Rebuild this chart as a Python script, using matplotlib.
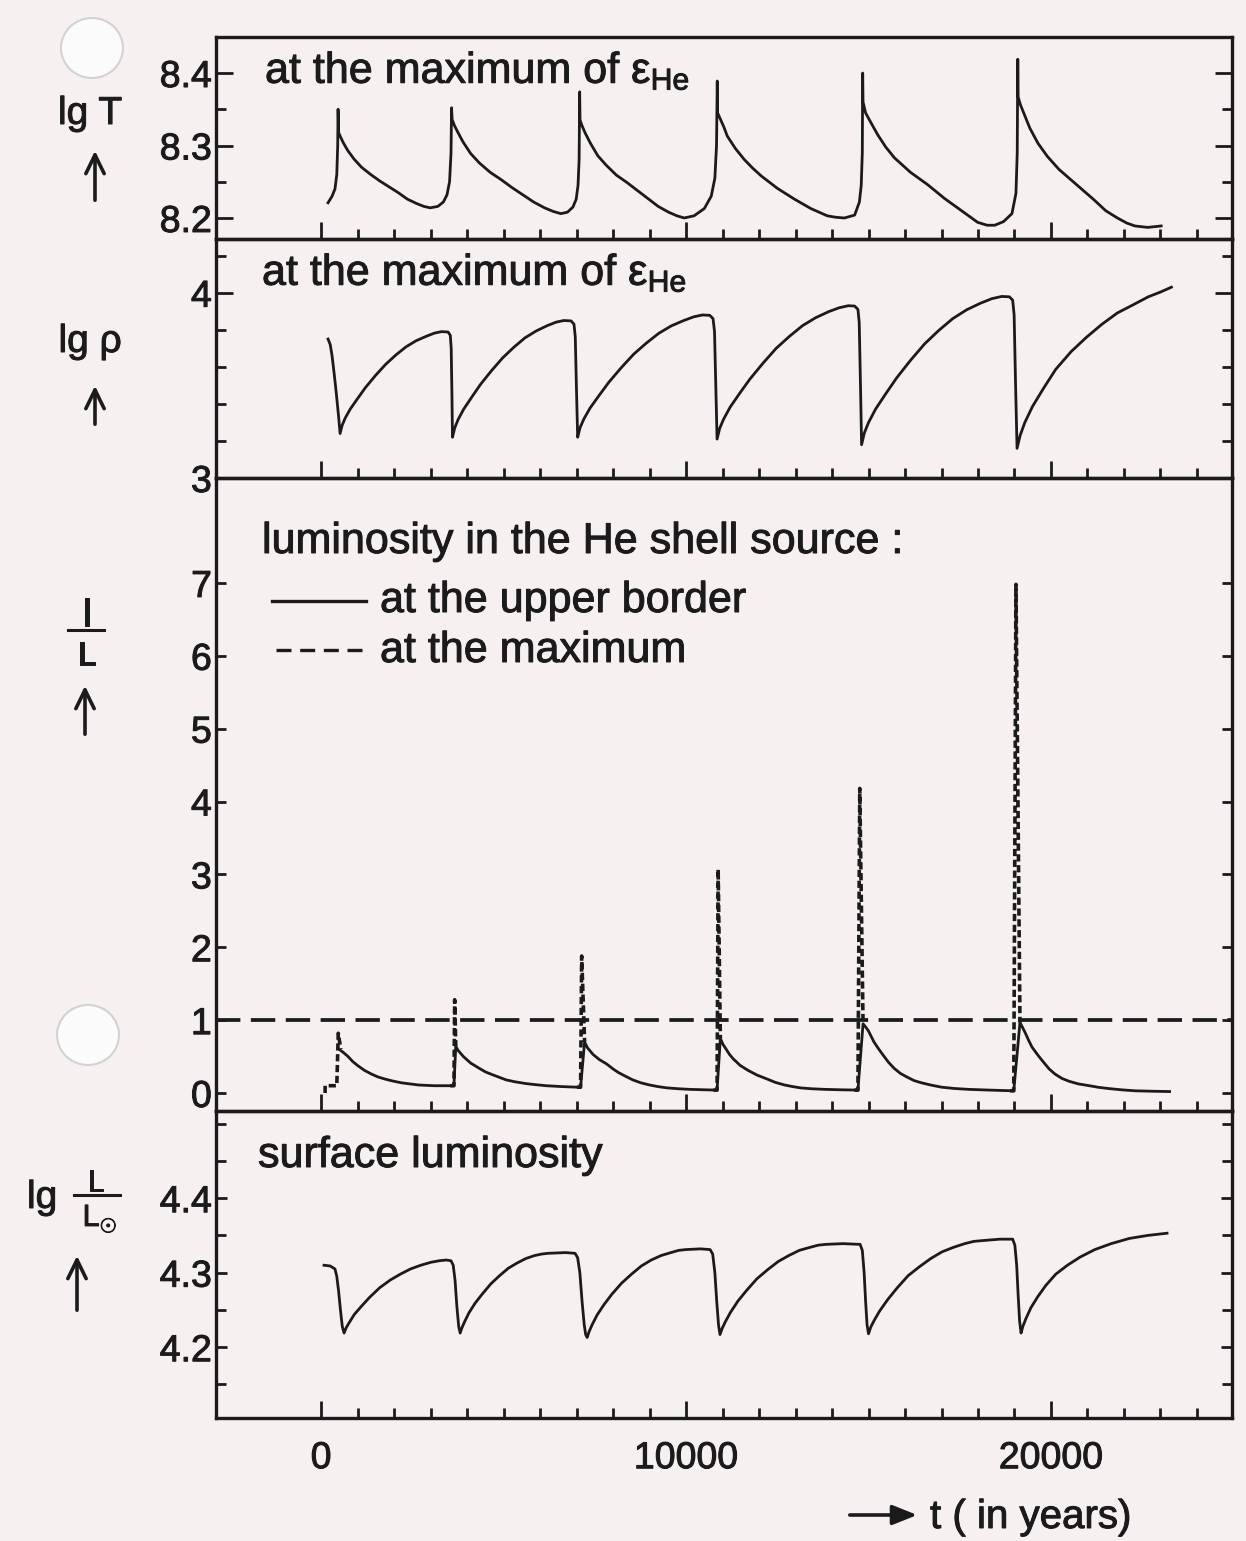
import matplotlib
matplotlib.use("Agg")
import matplotlib.pyplot as plt
import matplotlib.patheffects as pe
from matplotlib.patches import FancyArrowPatch, Ellipse
from matplotlib.lines import Line2D
from matplotlib.ticker import MultipleLocator, FixedLocator

# ---- values (t in years) ----

# lg T at the maximum of eps_He (thin spike on top of each flash, then a concave decay)
lgT_t = [190, 300, 380, 430, 455, 465, 480,
         530, 606, 731, 907, 1108, 1359, 1610, 1861, 2112, 2363, 2614, 2814, 2990,
         3200, 3350, 3450, 3520, 3560, 3575, 3590,
         3650, 3739, 3888, 4097, 4335, 4633, 4931, 5229, 5527, 5825, 6123, 6361, 6570,
         6750, 6900, 6990, 7040, 7070, 7085, 7095,
         7152, 7238, 7381, 7580, 7809, 8094, 8380, 8665, 8951, 9236, 9522, 9750, 9950,
         10220, 10500, 10690, 10790, 10835, 10855, 10865,
         10935, 11040, 11130, 11350, 11590, 11820, 12060, 12500, 12970, 13420, 13870, 14100, 14340,
         14620, 14750, 14800, 14830, 14840, 14850,
         14920, 15050, 15250, 15470, 15710, 16150, 16620, 17080, 17550, 17990, 18250, 18460,
         18700, 18930, 19040, 19075, 19090, 19100,
         19164, 19260, 19420, 19644, 19900, 20220, 20540, 20860, 21180, 21500, 21820, 22076, 22300,
         22650, 23020]
lgT_v = [8.221, 8.230, 8.240, 8.260, 8.300, 8.350, 8.318,
         8.312, 8.304, 8.293, 8.281, 8.270, 8.260, 8.251, 8.243, 8.235, 8.226, 8.220, 8.216, 8.214,
         8.216, 8.222, 8.232, 8.250, 8.290, 8.352, 8.336,
         8.328, 8.319, 8.305, 8.289, 8.276, 8.263, 8.253, 8.242, 8.232, 8.222, 8.214, 8.209, 8.206,
         8.208, 8.215, 8.226, 8.245, 8.280, 8.374, 8.335,
         8.327, 8.317, 8.303, 8.286, 8.273, 8.259, 8.249, 8.238, 8.227, 8.216, 8.208, 8.203, 8.200,
         8.203, 8.213, 8.230, 8.255, 8.300, 8.389, 8.345,
         8.337, 8.325, 8.313, 8.296, 8.281, 8.269, 8.258, 8.241, 8.226, 8.213, 8.203, 8.201, 8.200,
         8.204, 8.222, 8.245, 8.290, 8.400, 8.360,
         8.345, 8.333, 8.315, 8.298, 8.283, 8.263, 8.246, 8.227, 8.210, 8.194, 8.190, 8.190,
         8.195, 8.206, 8.234, 8.290, 8.419, 8.367,
         8.356, 8.344, 8.324, 8.303, 8.285, 8.267, 8.253, 8.239, 8.225, 8.210, 8.200, 8.193, 8.189,
         8.187, 8.189]

# lg rho at the maximum of eps_He
rho_t = [190, 250, 300, 360, 420, 480,
         520, 576, 659, 798, 993, 1215, 1493, 1771, 2049, 2327, 2605, 2883, 3105, 3300,
         3480, 3540, 3565, 3585,
         3600, 3661, 3753, 3905, 4119, 4363, 4668, 4973, 5278, 5583, 5888, 6193, 6437, 6650,
         6850, 6930, 6965, 6995,
         7030, 7098, 7201, 7372, 7611, 7885, 8227, 8569, 8911, 9253, 9595, 9937, 10211, 10450,
         10650, 10740, 10780, 10815,
         10850, 10922, 11030, 11210, 11462, 11750, 12110, 12470, 12830, 13190, 13550, 13910, 14198, 14450,
         14620, 14710, 14745, 14780,
         14810, 14887, 15002, 15194, 15463, 15770, 16154, 16538, 16922, 17306, 17690, 18074, 18381, 18650,
         18860, 18950, 18990, 19030,
         19070, 19155, 19282, 19493, 19789, 20128, 20551, 20974, 21397, 21820, 22243, 22666, 23004, 23300]
rho_v = [3.750, 3.720, 3.660, 3.560, 3.450, 3.330,
         3.240, 3.284, 3.323, 3.372, 3.427, 3.488, 3.554, 3.614, 3.664, 3.708, 3.741, 3.765, 3.782, 3.790,
         3.788, 3.770, 3.700, 3.450,
         3.220, 3.270, 3.315, 3.371, 3.434, 3.504, 3.579, 3.648, 3.705, 3.756, 3.793, 3.822, 3.841, 3.850,
         3.848, 3.830, 3.760, 3.500,
         3.220, 3.273, 3.319, 3.378, 3.444, 3.517, 3.596, 3.669, 3.728, 3.781, 3.821, 3.850, 3.870, 3.880,
         3.878, 3.860, 3.790, 3.500,
         3.210, 3.268, 3.318, 3.383, 3.455, 3.534, 3.620, 3.700, 3.764, 3.822, 3.865, 3.898, 3.919, 3.930,
         3.928, 3.910, 3.840, 3.500,
         3.180, 3.244, 3.300, 3.372, 3.452, 3.540, 3.636, 3.724, 3.796, 3.860, 3.908, 3.944, 3.968, 3.980,
         3.978, 3.960, 3.880, 3.500,
         3.160, 3.230, 3.299, 3.386, 3.482, 3.586, 3.682, 3.760, 3.830, 3.891, 3.934, 3.978, 4.004, 4.030]

# l/L at the upper border of the He shell source
lup_t = [490, 600, 740, 870, 1020, 1190, 1380, 1560, 1760, 1960, 2200, 2430, 2670, 3100, 3640,
         3690, 3760, 3900, 4100, 4330, 4500, 4700, 5070, 5300, 5600, 5900, 6170, 6600, 7000, 7110,
         7220, 7300, 7450, 7620, 7820, 8000, 8150, 8340, 8540, 8760, 9000, 9230, 9480, 9800, 10100, 10500, 10850,
         10940, 11010, 11100, 11190, 11290, 11480, 11700, 11950, 12230, 12450, 12700, 12920, 13140, 13450, 13800,
         14250, 14710,
         14850, 14930, 15000, 15070, 15150, 15270, 15400, 15550, 15700, 15870, 16050, 16250, 16450, 16700, 17000,
         17350, 17740, 18300, 18980,
         19150, 19220, 19300, 19390, 19480, 19640, 19800, 19950, 20110, 20300, 20500, 20750, 21050, 21300, 21600,
         21950, 22310, 22800, 23250]
lup_v = [0.60, 0.56, 0.50, 0.43, 0.37, 0.31, 0.26, 0.22, 0.19, 0.165, 0.14, 0.125, 0.11, 0.10, 0.10,
         0.64, 0.58, 0.50, 0.41, 0.34, 0.29, 0.25, 0.18, 0.155, 0.13, 0.113, 0.10, 0.088, 0.08, 0.08,
         0.70, 0.62, 0.53, 0.46, 0.40, 0.33, 0.28, 0.23, 0.18, 0.14, 0.11, 0.088, 0.07, 0.058, 0.05, 0.044, 0.04,
         0.75, 0.67, 0.60, 0.53, 0.47, 0.38, 0.31, 0.245, 0.19, 0.145, 0.11, 0.088, 0.07, 0.058, 0.05,
         0.044, 0.04,
         0.95, 0.90, 0.85, 0.78, 0.70, 0.61, 0.52, 0.42, 0.34, 0.27, 0.22, 0.17, 0.14, 0.11, 0.08,
         0.062, 0.05, 0.04, 0.03,
         0.97, 0.90, 0.82, 0.72, 0.63, 0.52, 0.42, 0.33, 0.26, 0.20, 0.16, 0.125, 0.10, 0.078, 0.06,
         0.043, 0.03, 0.024, 0.02]

# l/L at the maximum: one spike per flash
spike_from_t = [110, 3540, 7010, 10750, 14610, 18880]
spike_from_v = [0.0, 0.10, 0.08, 0.04, 0.04, 0.03]
spike_up_t = [430, 3640, 7110, 10850, 14710, 18980]
spike_top_t = [470, 3660, 7140, 10880, 14760, 19040]
spike_down_t = [540, 3690, 7220, 10940, 14850, 19150]
spike_base = [0.10, 0.10, 0.08, 0.04, 0.04, 0.03]
spike_peak = [0.82, 1.28, 1.88, 3.07, 4.18, 6.98]
spike_end = [0.60, 0.64, 0.70, 0.75, 0.95, 0.97]
ref_level = 1.0

# surface luminosity lg L/Lsun
lgL_t = [80, 250, 380, 430, 480, 530, 580,
         630, 686, 770, 910, 1106, 1330, 1610, 1890, 2170, 2450, 2730, 3010, 3234, 3430,
         3560, 3620, 3670, 3720, 3770,
         3810, 3858, 3930, 4050, 4218, 4410, 4650, 4890, 5130, 5370, 5610, 5850, 6042, 6210,
         6700, 6960, 7030, 7090, 7150, 7210, 7250,
         7290, 7344, 7425, 7560, 7749, 7965, 8235, 8505, 8775, 9045, 9315, 9585, 9801, 9990,
         10400, 10660, 10730, 10790, 10840, 10890,
         10930, 10988, 11075, 11220, 11423, 11655, 11945, 12235, 12525, 12815, 13105, 13395, 13627, 13830,
         14300, 14770, 14830, 14880, 14920, 14960,
         15000, 15062, 15155, 15310, 15527, 15775, 16085, 16395, 16705, 17015, 17325, 17635, 17883, 18100,
         18600, 18950, 19010, 19060, 19100, 19140,
         19180, 19230, 19310, 19450, 19640, 19860, 20130, 20450, 20800, 21200, 21650, 22150, 22650, 23180]
lgL_v = [4.310, 4.309, 4.305, 4.295, 4.275, 4.250, 4.228,
         4.219, 4.226, 4.233, 4.244, 4.255, 4.267, 4.280, 4.290, 4.298, 4.305, 4.310, 4.314, 4.316, 4.317,
         4.316, 4.310, 4.290, 4.255, 4.228,
         4.219, 4.226, 4.234, 4.246, 4.259, 4.271, 4.285, 4.296, 4.306, 4.313, 4.319, 4.323, 4.325, 4.326,
         4.327, 4.326, 4.320, 4.300, 4.262, 4.230, 4.217,
         4.213, 4.221, 4.230, 4.243, 4.257, 4.271, 4.286, 4.298, 4.309, 4.317, 4.323, 4.327, 4.330, 4.331,
         4.332, 4.331, 4.325, 4.300, 4.262, 4.230,
         4.217, 4.225, 4.234, 4.247, 4.262, 4.276, 4.292, 4.304, 4.315, 4.323, 4.330, 4.334, 4.337, 4.338,
         4.339, 4.338, 4.330, 4.300, 4.262, 4.230,
         4.218, 4.227, 4.236, 4.249, 4.264, 4.279, 4.296, 4.308, 4.319, 4.328, 4.334, 4.339, 4.342, 4.343,
         4.345, 4.345, 4.337, 4.310, 4.270, 4.235,
         4.219, 4.228, 4.238, 4.253, 4.268, 4.283, 4.298, 4.310, 4.321, 4.331, 4.339, 4.346, 4.350, 4.353]

x_major = [0, 10000, 20000]
x_labels = ["0", "10000", "20000"]
x_minor = [t for t in range(1000, 25000, 1000) if t % 10000]

# ---- style ----
W, H = 1246, 1541
INK = "#1b1b1b"
PAPER = "#f7f0f0"

plt.rcParams["font.family"] = ["Liberation Sans", "DejaVu Sans"]
plt.rcParams["mathtext.fontset"] = "custom"
plt.rcParams["mathtext.rm"] = "Liberation Sans"
plt.rcParams["mathtext.it"] = "Liberation Sans:italic"
plt.rcParams["mathtext.bf"] = "Liberation Sans:bold"
plt.rcParams["text.color"] = INK
plt.rcParams["axes.edgecolor"] = INK
plt.rcParams["xtick.color"] = INK
plt.rcParams["ytick.color"] = INK

BOLDEN = [pe.withStroke(linewidth=0.7, foreground=INK)]


def fx(x):
    return x / W


def fy(y):
    return 1 - y / H


fig = plt.figure(figsize=(W / 100, H / 100), dpi=100, facecolor=PAPER)

LEFT, RIGHT = 216, 1232


def panel(top, bottom, ylim, yticks, ylabels, yminor=None, major_len=10):
    ax = fig.add_axes([fx(LEFT), fy(bottom), (RIGHT - LEFT) / W, (bottom - top) / H])
    ax.set_facecolor("none")
    ax.set_xlim(-2880, 24960)
    ax.set_ylim(*ylim)
    for s in ax.spines.values():
        s.set_linewidth(2.4)
    ax.xaxis.set_major_locator(FixedLocator(x_major))
    ax.xaxis.set_minor_locator(FixedLocator(x_minor))
    ax.set_yticks(yticks)
    ax.set_yticklabels(ylabels)
    if yminor:
        ax.yaxis.set_minor_locator(MultipleLocator(yminor))
    ax.tick_params(axis="x", which="major", direction="in", length=12, width=2,
                   bottom=True, top=False, labelbottom=False)
    ax.tick_params(axis="x", which="minor", direction="in", length=7, width=2,
                   bottom=True, top=False)
    ax.tick_params(axis="y", which="both", direction="in", left=True, right=True,
                   width=2, labelsize=27, pad=3)
    ax.tick_params(axis="y", which="major", length=major_len)
    ax.tick_params(axis="y", which="minor", length=7)
    for lab in ax.get_yticklabels():
        lab.set_path_effects(BOLDEN)
    return ax


ax1 = panel(37, 239, (8.171, 8.4497), [8.2, 8.3, 8.4], ["8.2", "8.3", "8.4"], 0.05, 12)
ax2 = panel(239, 478, (3.0, 4.29), [3, 4], ["3", "4"], 0.2, 12)
ax3 = panel(478, 1111, (-0.247, 8.44), list(range(8)), [str(i) for i in range(8)], None, 7)
ax4 = panel(1111, 1418, (4.105, 4.517), [4.2, 4.3, 4.4], ["4.2", "4.3", "4.4"], 0.05, 8)

LW = 2.0
ax1.plot(lgT_t, lgT_v, color=INK, lw=LW, solid_joinstyle="round")
ax2.plot(rho_t, rho_v, color=INK, lw=LW, solid_joinstyle="round")
ax3.plot(lup_t, lup_v, color=INK, lw=LW, solid_joinstyle="round")
for k in range(len(spike_up_t)):
    xs = [spike_from_t[k], spike_from_t[k], spike_up_t[k], spike_top_t[k], spike_down_t[k]]
    ys = [spike_from_v[k], spike_base[k], spike_base[k], spike_peak[k], spike_end[k]]
    ax3.plot(xs, ys, color=INK, lw=2.6, ls=(0, (2.0, 1.0)))
ax3.axhline(ref_level, color=INK, lw=2.7, ls=(0, (6.5, 2.8)))
ax4.plot(lgL_t, lgL_v, color=INK, lw=LW, solid_joinstyle="round")

ax4.set_xticklabels(x_labels)
ax4.tick_params(axis="x", which="major", labelbottom=True, labelsize=27, pad=16)
for lab in ax4.get_xticklabels():
    lab.set_path_effects(BOLDEN)


def label(x, y, s, size, ha="left"):
    fig.text(fx(x), fy(y), s, fontsize=size, ha=ha, va="baseline", path_effects=BOLDEN)


# ---- texts inside the panels ----
FS = 31
label(265, 83, "at the maximum of ε$_{\\mathrm{He}}$", FS)
label(262, 285, "at the maximum of ε$_{\\mathrm{He}}$", FS)
label(262, 553, "luminosity in the He shell source :", FS)
label(380, 612, "at the upper border", FS)
label(380, 662, "at the maximum", FS)
label(258, 1167, "surface luminosity", FS)

fig.add_artist(Line2D([fx(272), fx(366)], [fy(601), fy(601)], transform=fig.transFigure,
                      color=INK, lw=2.4))
fig.add_artist(Line2D([fx(276), fx(366)], [fy(650), fy(650)], transform=fig.transFigure,
                      color=INK, lw=2.4, ls=(0, (4.5, 2.6))))

# ---- axis labels on the left ----
YFS = 28
label(90, 124, "lg T", YFS, "center")
label(90, 352, "lg ρ", YFS, "center")
label(87, 626, "l", YFS, "center")
fig.add_artist(Line2D([fx(68), fx(104)], [fy(630), fy(630)], transform=fig.transFigure,
                      color=INK, lw=2.2))
label(87, 665, "L", YFS - 4, "center")
label(27, 1208, "lg", YFS)
label(96, 1191, "L", YFS - 6, "center")
fig.add_artist(Line2D([fx(74), fx(120)], [fy(1195), fy(1195)], transform=fig.transFigure,
                      color=INK, lw=2.2))
label(100, 1226, "L$_{\\odot}$", YFS - 6, "center")


def up_arrow(x, y0, y1):
    fig.add_artist(FancyArrowPatch((fx(x), fy(y0)), (fx(x), fy(y1)), transform=fig.transFigure,
                                   arrowstyle="->,head_length=0.45,head_width=0.22",
                                   mutation_scale=30, lw=2.6, color=INK))


up_arrow(95, 203, 148)
up_arrow(95, 427, 383)
up_arrow(85, 737, 683)
up_arrow(77, 1313, 1253)

# ---- time axis caption ----
fig.add_artist(FancyArrowPatch((fx(847), fy(1515)), (fx(920), fy(1515)), transform=fig.transFigure,
                               arrowstyle="-|>,head_length=0.5,head_width=0.2",
                               mutation_scale=30, lw=2.6, color=INK))
label(930, 1528, "t ( in years)", 29)

# punch holes of the scanned page
for cx, cy in [(92, 48), (88, 1035)]:
    fig.add_artist(Ellipse((fx(cx), fy(cy)), 62 / W, 60 / H, transform=fig.transFigure,
                           facecolor="#fbfbfb", edgecolor="#d2d2d2", lw=1.5))

fig.savefig("out.png", dpi=100, facecolor=PAPER)
